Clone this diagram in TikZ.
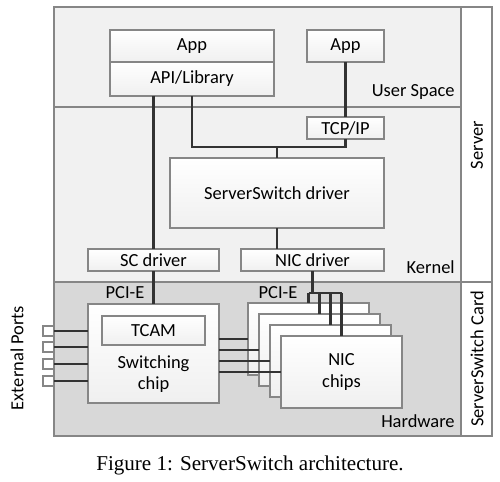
\documentclass[tikz,border=0pt]{standalone}
\usepackage{fontspec}
\setmainfont{Carlito}
\newfontfamily\capfont{Liberation Serif}
\usepackage{tikz}
\usetikzlibrary{calc}

\definecolor{userfill}{HTML}{F1F1F1}
\definecolor{hwfill}{HTML}{D8D8D8}
\definecolor{edgegray}{HTML}{868686}
\definecolor{wiregray}{HTML}{333333}

\begin{document}
\begin{tikzpicture}[x=0.2mm, y=-0.2mm,
        panel/.style = {draw=edgegray, line width=0.7pt, inner sep=0pt, outer sep=0pt},
        box/.style = {draw=edgegray, line width=0.8pt, top color=white, bottom color=gray!12, inner sep=0pt, outer sep=0pt, font=\fontsize{10.5}{12}\selectfont},
        port/.style = {draw=edgegray, line width=0.8pt, fill=white, minimum width=0.22cm, minimum height=0.2cm, inner sep=0pt, outer sep=0pt},
        tag/.style = {font=\fontsize{10.5}{12}\selectfont, inner sep=0pt},
        wire/.style = {draw=wiregray, line width=1.2pt}]
        \useasboundingbox (0,0) rectangle (500,481);

        % regions
        \node[panel, fill=userfill, minimum width=8.14cm, minimum height=2cm] at (257.5,57) (user) {};
        \node[panel, fill=userfill, minimum width=8.14cm, minimum height=3.5cm] at (257.5,194.5) (kernel) {};
        \node[panel, fill=hwfill, minimum width=8.14cm, minimum height=3.08cm] at (257.5,359) (hw) {};
        \node[panel, fill=white, minimum width=0.62cm, minimum height=5.5cm] at (476.5,144.5) (server) {};
        \node[panel, fill=white, minimum width=0.62cm, minimum height=3.08cm] at (476.5,359) (card) {};

        \node[tag, anchor=east] at (455,92) (userlabel) {User Space};
        \node[tag, anchor=east] at (455,267) (kernellabel) {Kernel};
        \node[tag, anchor=east] at (455,421) (hwlabel) {Hardware};
        \node[tag, rotate=90] at (477,145) (serverlabel) {Server};
        \node[tag, rotate=90] at (477,359) (cardlabel) {ServerSwitch Card};
        \node[tag, rotate=90] at (17,358) (extlabel) {External Ports};

        % boxes
        \node[box, minimum width=3.28cm, minimum height=0.64cm] at (192,46) (app) {App};
        \node[box, minimum width=3.28cm, minimum height=0.68cm] at (192,79) (api) {API/Library};
        \node[box, minimum width=1.54cm, minimum height=0.64cm] at (345.5,46) (apptwo) {App};
        \node[box, minimum width=1.54cm, minimum height=0.44cm] at (345.5,128) (tcp) {TCP/IP};
        \node[box, minimum width=4.28cm, minimum height=1.4cm] at (277,193) (ssd) {ServerSwitch driver};
        \node[box, minimum width=2.62cm, minimum height=0.44cm] at (153.5,260) (scd) {SC driver};
        \node[box, minimum width=2.86cm, minimum height=0.44cm] at (312.5,260) (nicd) {NIC driver};

        \node[box, minimum width=2.62cm, minimum height=1.98cm] at (153.5,353.5) (chip) {};
        \node[box, minimum width=2.06cm, minimum height=0.58cm] at (153.5,330.5) (tcam) {TCAM};
        \node[tag, align=center] at (153.5,374) (chiplabel) {Switching\\chip};

        \node[box, minimum width=2.42cm, minimum height=1.44cm] at (308.5,339) (nic1) {};
        \node[box, minimum width=2.42cm, minimum height=1.44cm] at (319.5,350) (nic2) {};
        \node[box, minimum width=2.42cm, minimum height=1.44cm] at (330.5,361) (nic3) {};
        \node[box, minimum width=2.42cm, minimum height=1.44cm, align=center] at (341.5,372) (nic4) {NIC\\chips};

        \node[tag] at (125,293) (pcia) {PCI-E};
        \node[tag] at (278,293) (pcib) {PCI-E};

        \node[port] at (48.5,331) (p1) {};
        \node[port] at (48.5,347) (p2) {};
        \node[port] at (48.5,364) (p3) {};
        \node[port] at (48.5,381) (p4) {};

        \coordinate (j) at (277,147);
        \coordinate (bus) at (312.5,293);

        % connectors
        \draw[wire] (api.south -| scd.north) -- (scd.north);
        \draw[wire] (scd.south) -- (chip.north);
        \draw[wire] (api.south) |- (j) -| (tcp.south);
        \draw[wire] (j) -- (ssd.north);
        \draw[wire] (apptwo.south) -- (tcp.north);
        \draw[wire] (ssd.south) -- (ssd.south |- nicd.north);
        \draw[wire] (nicd.south) -- (bus);
        \draw[wire] (nic1.north |- bus) -- (nic4.north |- bus);
        \foreach \i in {1,...,4} {
                \draw[wire] (nic\i.north |- bus) -- (nic\i.north);
                \draw[wire] (chip.east |- nic\i.west) -- (nic\i.west);
                \draw[wire] (p\i.east) -- (chip.west |- p\i.east);
        }

        \node[font=\capfont\fontsize{12}{14}\selectfont] at (250,465) (caption) {Figure 1: ServerSwitch architecture.};
\end{tikzpicture}
\end{document}
